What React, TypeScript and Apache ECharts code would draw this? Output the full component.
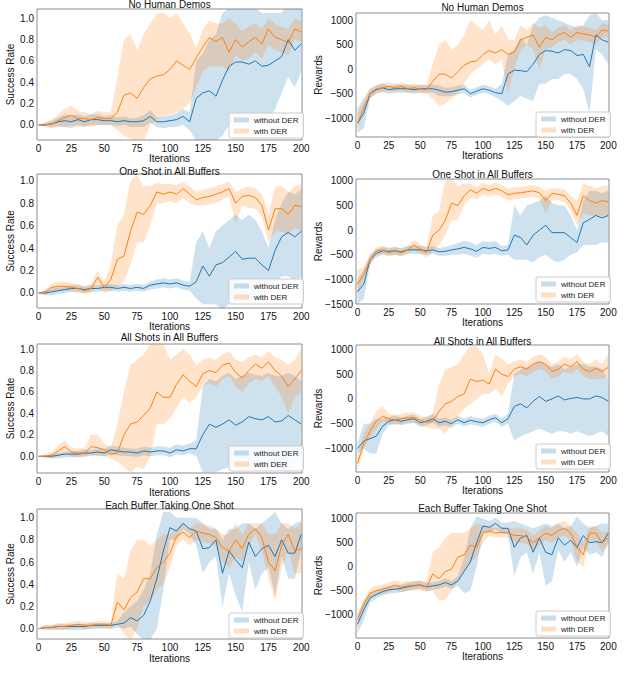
import React, { useEffect, useRef } from "react";
import * as echarts from "echarts";

// ---------- data ----------
const iterations = [0, 5, 10, 15, 20, 25, 30, 35, 40, 45, 50, 55, 60, 65, 70, 75, 80, 85, 90, 95, 100, 105, 110, 115, 120, 125, 130, 135, 140, 145, 150, 155, 160, 165, 170, 175, 180, 185, 190, 195, 200];
const xTickValues = [0, 25, 50, 75, 100, 125, 150, 175, 200];
const successTicks = [0, 0.2, 0.4, 0.6, 0.8, 1.0];
const rewardTicks = [-1000, -500, 0, 500, 1000];
const rewardTicksDeep = [-1500, -1000, -500, 0, 500, 1000];
const panelTitles = ["No Human Demos", "One Shot in All Buffers", "All Shots in All Buffers", "Each Buffer Taking One Shot"];
const seriesNames = ["without DER", "with DER"];

// No Human Demos - success rate
const nhdSrWoMean = [0, 0, 0.01, 0.03, 0.04, 0.03, 0.05, 0.03, 0.05, 0.05, 0.04, 0.04, 0.03, 0.04, 0.03, 0.03, 0.04, 0.08, 0.03, 0.03, 0.04, 0.05, 0.08, 0.03, 0.25, 0.3, 0.32, 0.27, 0.42, 0.55, 0.59, 0.59, 0.57, 0.6, 0.55, 0.56, 0.6, 0.64, 0.8, 0.7, 0.76];
const nhdSrWoLo = [0, -0.01, -0.02, -0.01, -0.02, -0.03, 0, -0.02, 0, 0, 0, 0, -0.01, 0, -0.02, -0.02, -0.02, 0.02, -0.02, -0.03, -0.02, -0.02, 0, -0.05, -0.15, -0.15, -0.15, -0.15, -0.1, 0, 0.05, 0.08, 0.07, 0.1, 0.05, 0.06, 0.15, 0.3, 0.45, 0.35, 0.5];
const nhdSrWoHi = [0, 0.02, 0.04, 0.07, 0.1, 0.09, 0.1, 0.08, 0.1, 0.1, 0.08, 0.09, 0.07, 0.08, 0.06, 0.07, 0.09, 0.14, 0.07, 0.08, 0.09, 0.11, 0.15, 0.12, 0.6, 0.67, 0.8, 0.85, 1.05, 1.1, 1.1, 1.1, 1.1, 1.1, 1.05, 1.05, 1.05, 1.05, 1.15, 1.1, 1.1];
const nhdSrWMean = [0, 0, 0.01, 0.04, 0.07, 0.09, 0.06, 0.06, 0.05, 0.07, 0.06, 0.06, 0.12, 0.28, 0.3, 0.25, 0.35, 0.43, 0.46, 0.47, 0.52, 0.6, 0.56, 0.52, 0.63, 0.73, 0.82, 0.78, 0.82, 0.68, 0.8, 0.73, 0.78, 0.82, 0.76, 0.9, 0.82, 0.8, 0.77, 0.9, 0.87];
const nhdSrWLo = [0, -0.02, -0.03, -0.02, -0.02, 0, -0.02, -0.01, -0.02, 0, 0, 0, -0.05, -0.1, -0.13, -0.15, -0.15, 0, 0.05, 0.08, 0.1, 0.12, 0.15, 0.2, 0.35, 0.5, 0.55, 0.55, 0.55, 0.5, 0.65, 0.6, 0.62, 0.68, 0.62, 0.75, 0.7, 0.68, 0.65, 0.8, 0.78];
const nhdSrWHi = [0, 0.02, 0.05, 0.1, 0.15, 0.18, 0.13, 0.12, 0.1, 0.13, 0.12, 0.12, 0.45, 0.8, 0.85, 0.7, 0.85, 0.95, 1.05, 1.05, 1.0, 1.05, 0.95, 0.85, 0.72, 0.9, 0.98, 0.95, 0.95, 1.0, 0.95, 0.88, 0.92, 0.95, 0.9, 1.0, 0.95, 0.92, 0.9, 1.0, 0.97];

// One Shot in All Buffers - success rate
const osSrWoMean = [0, 0, 0.01, 0.02, 0.03, 0.04, 0.04, 0.03, 0.04, 0.04, 0.05, 0.05, 0.04, 0.05, 0.04, 0.05, 0.04, 0.07, 0.08, 0.09, 0.08, 0.09, 0.07, 0.06, 0.1, 0.24, 0.15, 0.25, 0.27, 0.32, 0.37, 0.3, 0.31, 0.31, 0.25, 0.2, 0.38, 0.5, 0.54, 0.5, 0.55];
const osSrWoLo = [0, -0.02, -0.02, -0.01, 0, 0.01, 0.01, 0, 0.01, 0.01, 0.02, 0.02, 0.01, 0.02, 0.01, 0.02, 0.01, 0.03, 0.04, 0.05, 0.04, 0.05, 0.03, 0.02, -0.05, -0.1, -0.1, -0.1, -0.15, -0.1, -0.1, -0.05, -0.08, -0.05, -0.05, 0, 0.1, 0.15, 0.15, 0.1, 0.15];
const osSrWoHi = [0, 0.02, 0.04, 0.05, 0.06, 0.07, 0.07, 0.06, 0.07, 0.07, 0.08, 0.08, 0.07, 0.08, 0.07, 0.08, 0.07, 0.1, 0.12, 0.13, 0.12, 0.13, 0.11, 0.1, 0.45, 0.55, 0.4, 0.55, 0.6, 0.65, 0.7, 0.65, 0.7, 0.65, 0.55, 0.4, 0.65, 0.8, 0.9, 0.88, 0.92];
const osSrWMean = [0, 0.01, 0.05, 0.06, 0.06, 0.05, 0.04, 0.02, 0.04, 0.14, 0.05, 0.12, 0.3, 0.33, 0.55, 0.72, 0.7, 0.78, 0.9, 0.88, 0.9, 0.88, 0.93, 0.88, 0.83, 0.85, 0.86, 0.88, 0.9, 0.93, 0.8, 0.86, 0.87, 0.85, 0.78, 0.56, 0.75, 0.75, 0.7, 0.78, 0.77];
const osSrWLo = [0, -0.02, 0.01, 0.02, 0.02, 0.01, 0, -0.01, 0, 0.06, 0, 0.02, 0.05, 0.1, 0.25, 0.45, 0.45, 0.6, 0.8, 0.8, 0.82, 0.8, 0.85, 0.8, 0.78, 0.78, 0.79, 0.8, 0.83, 0.86, 0.62, 0.78, 0.76, 0.75, 0.68, 0.45, 0.55, 0.55, 0.52, 0.58, 0.55];
const osSrWHi = [0, 0.03, 0.08, 0.1, 0.1, 0.09, 0.08, 0.05, 0.08, 0.2, 0.1, 0.25, 0.6, 0.7, 1.0, 1.05, 0.95, 0.95, 0.98, 0.97, 0.97, 0.96, 0.99, 0.95, 0.9, 0.92, 0.93, 0.95, 0.97, 0.99, 0.9, 0.93, 0.95, 0.93, 0.88, 0.7, 0.95, 0.95, 0.9, 0.95, 0.97];

// All Shots in All Buffers - success rate
const asSrWoMean = [0, 0, 0, 0.01, 0.02, 0.02, 0.02, 0.03, 0.03, 0.04, 0.03, 0.06, 0.05, 0.04, 0.04, 0.03, 0.05, 0.04, 0.05, 0.05, 0.03, 0.06, 0.05, 0.07, 0.07, 0.2, 0.3, 0.27, 0.3, 0.34, 0.29, 0.32, 0.37, 0.35, 0.34, 0.37, 0.32, 0.33, 0.38, 0.34, 0.3];
const asSrWoLo = [0, -0.01, -0.02, -0.02, -0.01, -0.01, -0.01, 0, 0, 0.01, 0, 0.02, 0.01, 0, 0, -0.01, 0.01, 0, 0.01, 0.01, -0.01, 0.02, 0.01, 0.03, 0, -0.15, -0.15, -0.15, -0.12, -0.1, -0.12, -0.1, -0.12, -0.1, -0.12, -0.12, -0.1, -0.12, -0.15, -0.05, 0];
const asSrWoHi = [0, 0.01, 0.02, 0.03, 0.04, 0.05, 0.05, 0.06, 0.06, 0.07, 0.07, 0.1, 0.09, 0.08, 0.07, 0.07, 0.09, 0.08, 0.09, 0.09, 0.08, 0.11, 0.1, 0.12, 0.15, 0.65, 0.72, 0.7, 0.75, 0.78, 0.72, 0.75, 0.78, 0.76, 0.75, 0.78, 0.75, 0.75, 0.78, 0.75, 0.7];
const asSrWMean = [0, 0, 0.01, 0.05, 0.09, 0.04, 0.03, 0.03, 0.09, 0.08, 0.06, 0.02, 0.03, 0.2, 0.3, 0.32, 0.38, 0.45, 0.6, 0.55, 0.55, 0.67, 0.76, 0.7, 0.65, 0.77, 0.8, 0.78, 0.85, 0.87, 0.78, 0.73, 0.8, 0.86, 0.82, 0.88, 0.8, 0.75, 0.65, 0.72, 0.8];
const asSrWLo = [0, -0.02, -0.02, 0, 0.03, 0, -0.01, -0.01, 0.02, 0, 0, -0.02, -0.05, -0.1, -0.15, -0.1, -0.12, 0, 0.3, 0.3, 0.35, 0.45, 0.55, 0.5, 0.55, 0.65, 0.68, 0.65, 0.72, 0.75, 0.65, 0.6, 0.68, 0.72, 0.7, 0.75, 0.65, 0.55, 0.4, 0.55, 0.6];
const asSrWHi = [0, 0.02, 0.04, 0.1, 0.15, 0.08, 0.07, 0.08, 0.2, 0.2, 0.12, 0.08, 0.3, 0.6, 0.85, 0.9, 0.95, 1.05, 1.05, 1.05, 0.9, 0.95, 1.0, 0.95, 0.85, 0.9, 0.92, 0.9, 0.95, 0.98, 0.9, 0.88, 0.92, 0.95, 0.92, 0.98, 0.92, 0.9, 0.85, 0.9, 1.0];

// Each Buffer Taking One Shot - success rate
const ebSrWoMean = [0, 0.01, 0.01, 0.02, 0.02, 0.02, 0.02, 0.02, 0.03, 0.03, 0.03, 0.03, 0.04, 0.05, 0.1, 0.07, 0.12, 0.25, 0.45, 0.7, 0.91, 0.88, 0.95, 0.9, 0.88, 0.72, 0.73, 0.8, 0.5, 0.7, 0.62, 0.55, 0.78, 0.65, 0.72, 0.75, 0.65, 0.8, 0.68, 0.68, 0.85];
const ebSrWoLo = [0, -0.01, -0.01, -0.01, -0.01, -0.01, -0.01, -0.01, 0, 0, 0, 0, 0.01, 0, 0.02, -0.05, -0.1, -0.1, 0, 0.35, 0.8, 0.8, 0.9, 0.85, 0.75, 0.5, 0.6, 0.65, 0.2, 0.5, 0.3, 0.15, 0.6, 0.35, 0.5, 0.55, 0.3, 0.65, 0.45, 0.45, 0.7];
const ebSrWoHi = [0, 0.03, 0.03, 0.04, 0.04, 0.04, 0.04, 0.04, 0.05, 0.05, 0.05, 0.05, 0.07, 0.15, 0.2, 0.25, 0.35, 0.5, 0.85, 1.05, 1.05, 1.0, 1.0, 1.0, 1.0, 0.95, 0.9, 0.9, 0.8, 0.9, 0.9, 0.95, 0.95, 0.9, 0.95, 1.0, 1.05, 0.95, 0.9, 0.95, 0.97];
const ebSrWMean = [0, 0.01, 0.01, 0.02, 0.02, 0.03, 0.04, 0.03, 0.03, 0.04, 0.04, 0.03, 0.24, 0.17, 0.28, 0.33, 0.45, 0.45, 0.55, 0.6, 0.68, 0.83, 0.87, 0.82, 0.88, 0.86, 0.85, 0.82, 0.73, 0.7, 0.8, 0.72, 0.85, 0.9, 0.82, 0.6, 0.52, 0.75, 0.85, 0.7, 0.72];
const ebSrWLo = [0, -0.01, -0.01, -0.01, -0.01, 0, 0.01, 0, 0, 0.01, 0.01, 0, 0.05, -0.05, -0.1, 0, 0.2, 0.25, 0.35, 0.4, 0.55, 0.75, 0.8, 0.75, 0.8, 0.78, 0.77, 0.74, 0.6, 0.55, 0.65, 0.6, 0.75, 0.85, 0.7, 0.45, 0.25, 0.55, 0.7, 0.5, 0.5];
const ebSrWHi = [0, 0.03, 0.03, 0.05, 0.05, 0.06, 0.07, 0.06, 0.06, 0.07, 0.07, 0.06, 0.5, 0.45, 0.7, 0.8, 0.8, 0.75, 0.8, 0.85, 0.85, 0.9, 0.95, 0.9, 0.95, 0.94, 0.93, 0.9, 0.85, 0.85, 0.95, 0.85, 0.95, 0.95, 0.95, 0.85, 0.85, 0.95, 0.95, 0.9, 0.95];

// No Human Demos - rewards
const nhdRwWoMean = [-1100, -900, -500, -420, -380, -420, -400, -400, -400, -420, -400, -400, -400, -430, -470, -460, -430, -400, -500, -450, -400, -430, -480, -500, -100, -20, -30, -50, 100, 300, 380, 370, 330, 400, 380, 280, 300, 50, 700, 600, 550];
const nhdRwWoLo = [-1300, -1200, -600, -500, -470, -500, -480, -480, -480, -500, -480, -480, -480, -550, -560, -550, -520, -480, -580, -530, -480, -510, -570, -650, -750, -650, -550, -600, -650, -300, -300, -200, -200, -100, -100, -200, -400, -900, 400, 300, 100];
const nhdRwWoHi = [-800, -600, -400, -340, -290, -340, -320, -320, -320, -340, -320, -320, -320, -330, -380, -370, -340, -320, -420, -370, -320, -350, -400, -300, 300, 400, 650, 500, 900, 1050, 1100, 1050, 1000, 950, 900, 850, 900, 1100, 1150, 1000, 1000];
const nhdRwWMean = [-1100, -800, -500, -400, -380, -350, -380, -350, -400, -380, -400, -420, -250, -100, -100, -180, -50, 80, 150, 170, 300, 380, 330, 400, 300, 350, 600, 650, 700, 450, 650, 600, 700, 750, 650, 750, 720, 700, 650, 800, 780];
const nhdRwWLo = [-1200, -900, -600, -480, -460, -430, -460, -430, -480, -460, -480, -500, -600, -750, -700, -600, -500, -300, -100, 0, 100, 200, 100, 200, -500, 0, 400, 500, 400, 0, 400, 450, 550, 600, 500, 600, 580, 550, 500, 650, 650];
const nhdRwWHi = [-900, -650, -400, -320, -300, -270, -300, -270, -320, -300, -320, -340, 100, 500, 600, 400, 500, 700, 1000, 900, 800, 1000, 700, 900, 600, 600, 900, 800, 950, 850, 900, 750, 850, 900, 800, 900, 870, 850, 800, 950, 900];

// One Shot in All Buffers - rewards
const osRwWoMean = [-1250, -1100, -600, -470, -420, -430, -420, -440, -400, -400, -400, -420, -400, -440, -430, -400, -380, -350, -380, -430, -350, -370, -350, -420, -400, -100, -150, -300, -100, 0, 100, -50, -50, -50, -150, -250, 150, 220, 300, 250, 300];
const osRwWoLo = [-1500, -1400, -700, -550, -500, -510, -500, -520, -480, -480, -480, -500, -480, -520, -520, -500, -500, -480, -520, -560, -480, -500, -480, -520, -500, -600, -600, -600, -650, -550, -500, -600, -650, -600, -500, -450, -300, -300, -300, -250, -250];
const osRwWoHi = [-1000, -800, -500, -390, -340, -350, -340, -360, -320, -320, -320, -340, -320, -360, -340, -300, -260, -220, -240, -300, -220, -240, -220, -320, -300, 500, 300, 500, 550, 600, 700, 550, 500, 500, 300, 0, 600, 800, 800, 750, 800];
const osRwWMean = [-1100, -900, -600, -420, -400, -460, -420, -460, -400, -300, -380, -450, -100, 0, 200, 550, 500, 700, 820, 750, 850, 800, 850, 800, 720, 750, 760, 780, 800, 760, 600, 750, 730, 700, 550, 300, 700, 600, 550, 600, 580];
const osRwWLo = [-1300, -1000, -700, -500, -480, -540, -500, -540, -480, -400, -480, -550, -450, -300, -100, 200, 200, 500, 650, 630, 730, 680, 730, 680, 600, 630, 640, 660, 680, 640, 350, 600, 610, 580, 400, 100, 350, 300, 300, 300, 300];
const osRwWHi = [-800, -750, -500, -340, -320, -380, -340, -380, -320, -200, -280, -350, 300, 400, 1000, 1050, 900, 950, 950, 870, 970, 920, 970, 920, 840, 870, 880, 900, 920, 880, 800, 850, 850, 820, 700, 600, 950, 900, 850, 900, 900];

// All Shots in All Buffers - rewards
const asRwWoMean = [-1000, -850, -800, -750, -550, -450, -420, -450, -420, -400, -480, -450, -400, -480, -450, -500, -420, -480, -430, -460, -480, -420, -380, -480, -400, -150, -100, -180, -50, 50, -50, 0, 60, -20, 10, 30, 0, 0, 60, 30, -50];
const asRwWoLo = [-1100, -1000, -1100, -1100, -700, -530, -500, -530, -500, -480, -560, -530, -480, -560, -530, -580, -500, -560, -510, -540, -560, -500, -460, -560, -500, -850, -750, -700, -650, -600, -650, -700, -650, -650, -700, -650, -700, -750, -700, -650, -750];
const asRwWoHi = [-900, -500, -500, -400, -400, -370, -340, -370, -340, -320, -400, -370, -300, -400, -370, -420, -340, -400, -350, -380, -400, -340, -300, -400, -300, 500, 600, 650, 700, 750, 700, 650, 700, 600, 650, 700, 700, 650, 650, 600, 400];
const asRwWMean = [-1300, -900, -650, -450, -350, -400, -420, -400, -380, -380, -430, -470, -450, -250, -100, -50, 50, 100, 400, 350, 380, 300, 600, 500, 450, 600, 650, 600, 700, 750, 700, 550, 600, 700, 650, 750, 600, 550, 620, 550, 640];
const asRwWLo = [-1450, -1000, -800, -600, -450, -500, -520, -500, -480, -480, -530, -570, -600, -600, -700, -500, -350, -200, -100, 0, 100, 100, 200, 50, 300, 450, 500, 450, 550, 600, 550, 400, 450, 550, 500, 600, 450, 400, 400, 400, 450];
const asRwWHi = [-1150, -700, -500, -250, -150, -300, -320, -300, -280, -280, -330, -370, -300, 300, 600, 650, 700, 900, 1050, 1050, 900, 500, 900, 800, 700, 750, 800, 750, 850, 900, 850, 700, 750, 850, 800, 900, 750, 700, 800, 700, 900];

// Each Buffer Taking One Shot - rewards
const ebRwWoMean = [-1200, -900, -650, -580, -520, -480, -470, -450, -420, -390, -380, -420, -400, -380, -330, -380, -300, -100, 100, 500, 850, 820, 900, 800, 800, 400, 600, 650, 300, 600, 300, 250, 600, 450, 550, 400, 650, 500, 520, 500, 700];
const ebRwWoLo = [-1400, -1100, -750, -660, -600, -560, -550, -530, -500, -470, -460, -500, -480, -460, -420, -460, -400, -550, -500, 0, 700, 700, 780, 680, 680, -200, 200, 300, -150, 300, -400, -300, 350, 100, 300, 0, 400, 250, 300, 200, 500];
const ebRwWoHi = [-1000, -700, -550, -500, -440, -400, -390, -370, -340, -310, -300, -340, -320, -300, -240, -300, -200, 200, 800, 1050, 1000, 950, 1020, 920, 920, 950, 900, 850, 800, 850, 900, 850, 900, 800, 850, 1050, 900, 800, 850, 900, 900];
const ebRwWMean = [-1100, -800, -550, -500, -470, -430, -380, -430, -400, -400, -390, -420, -150, -250, -100, -50, 200, 250, 450, 400, 700, 750, 700, 720, 700, 650, 650, 620, 500, 600, 700, 650, 750, 800, 700, 400, 250, 700, 700, 500, 600];
const ebRwWLo = [-1200, -900, -650, -600, -570, -530, -480, -530, -500, -500, -490, -520, -500, -700, -700, -500, -300, -100, 100, 200, 500, 650, 600, 620, 600, 500, 500, 470, 350, 450, 550, 500, 600, 650, 550, 100, 0, 550, 550, 300, 450];
const ebRwWHi = [-1000, -700, -450, -400, -370, -330, -280, -330, -300, -300, -290, -320, 300, 400, 600, 700, 700, 700, 800, 900, 850, 850, 800, 820, 800, 800, 800, 770, 650, 750, 850, 800, 900, 950, 850, 700, 500, 850, 850, 700, 750];

// ---------- panel definitions (data refs) ----------
const panelData = [
  { title: panelTitles[0], kind: "sr", wo: [nhdSrWoMean, nhdSrWoLo, nhdSrWoHi], w: [nhdSrWMean, nhdSrWLo, nhdSrWHi] },
  { title: panelTitles[0], kind: "rw", wo: [nhdRwWoMean, nhdRwWoLo, nhdRwWoHi], w: [nhdRwWMean, nhdRwWLo, nhdRwWHi] },
  { title: panelTitles[1], kind: "sr", wo: [osSrWoMean, osSrWoLo, osSrWoHi], w: [osSrWMean, osSrWLo, osSrWHi] },
  { title: panelTitles[1], kind: "rw", wo: [osRwWoMean, osRwWoLo, osRwWoHi], w: [osRwWMean, osRwWLo, osRwWHi] },
  { title: panelTitles[2], kind: "sr", wo: [asSrWoMean, asSrWoLo, asSrWoHi], w: [asSrWMean, asSrWLo, asSrWHi] },
  { title: panelTitles[2], kind: "rw", wo: [asRwWoMean, asRwWoLo, asRwWoHi], w: [asRwWMean, asRwWLo, asRwWHi] },
  { title: panelTitles[3], kind: "sr", wo: [ebSrWoMean, ebSrWoLo, ebSrWoHi], w: [ebSrWMean, ebSrWLo, ebSrWHi] },
  { title: panelTitles[3], kind: "rw", wo: [ebRwWoMean, ebRwWoLo, ebRwWoHi], w: [ebRwWMean, ebRwWLo, ebRwWHi] },
];

// ---------- layout (positions / styles) ----------
const LAYOUT = [
  { left: 37, top: 9, width: 265, height: 131, yMin: -0.141, yMax: 1.087, ticks: successTicks, titleY: 4.5, legTop: 113, xGap: 13 },
  { left: 356, top: 13, width: 253, height: 124, yMin: -1386, yMax: 1148, ticks: rewardTicks, titleY: 7, legTop: 112, xGap: 13 },
  { left: 37, top: 174, width: 265, height: 134, yMin: -0.134, yMax: 1.06, ticks: successTicks, titleY: 171, legTop: 279, xGap: 13 },
  { left: 356, top: 179, width: 253, height: 125, yMin: -1500, yMax: 1040, ticks: rewardTicksDeep, titleY: 174.5, legTop: 277, xGap: 13 },
  { left: 37, top: 344, width: 265, height: 129, yMin: -0.156, yMax: 1.047, ticks: successTicks, titleY: 337.3, legTop: 446, xGap: 14 },
  { left: 356, top: 345, width: 253, height: 127, yMin: -1473, yMax: 1087, ticks: rewardTicks, titleY: 341.5, legTop: 444, xGap: 13 },
  { left: 37, top: 509, width: 265, height: 130, yMin: -0.093, yMax: 1.078, ticks: successTicks, titleY: 505, legTop: 613, xGap: 14.5 },
  { left: 356, top: 513, width: 253, height: 125, yMin: -1486, yMax: 1119, ticks: rewardTicks, titleY: 508, legTop: 611, xGap: 13 },
];

const FONT = "'Liberation Sans', Arial, Helvetica, sans-serif";
const BLUE = "#1f77b4";
const ORANGE = "#ff7f0e";
const BLUE_BAND = "rgba(31,119,180,0.22)";
const ORANGE_BAND = "rgba(255,127,14,0.22)";

function bandSeries(gi: number, lo: number[], hi: number[], color: string, name: string) {
  return {
    type: "custom",
    name,
    xAxisIndex: gi,
    yAxisIndex: gi,
    silent: true,
    clip: true,
    z: 1,
    itemStyle: { color },
    data: [[iterations[0], lo[0]]],
    renderItem: (params: any, api: any) => {
      const pts: number[][] = [];
      for (let i = 0; i < iterations.length; i++) pts.push(api.coord([iterations[i], hi[i]]));
      for (let i = iterations.length - 1; i >= 0; i--) pts.push(api.coord([iterations[i], lo[i]]));
      const cs = params.coordSys;
      return {
        type: "polygon",
        shape: { points: pts },
        style: { fill: color },
        clipPath: { type: "rect", shape: { x: cs.x, y: cs.y, width: cs.width, height: cs.height } },
      };
    },
  };
}

function lineSeries(gi: number, mean: number[], color: string, name: string) {
  return {
    type: "line",
    name,
    xAxisIndex: gi,
    yAxisIndex: gi,
    silent: true,
    symbol: "none",
    showSymbol: false,
    z: 3,
    lineStyle: { width: 1, color },
    itemStyle: { color },
    data: iterations.map((x, i) => [x, mean[i]]),
  };
}

function fmtReward(v: number) {
  return v < 0 ? "\u2212" + Math.abs(v) : String(v);
}

function buildOption() {
  const grid: any[] = [];
  const xAxis: any[] = [];
  const yAxis: any[] = [];
  const series: any[] = [];
  const legend: any[] = [];
  const graphic: any[] = [];

  panelData.forEach((p, i) => {
    const L = LAYOUT[i];
    const isSr = p.kind === "sr";
    grid.push({ left: L.left, top: L.top, width: L.width, height: L.height, show: true, borderColor: "#8c8c8c", borderWidth: 1, backgroundColor: "transparent" });
    xAxis.push({
      gridIndex: i,
      type: "value",
      min: -1.2,
      max: 200.5,
      axisLine: { show: false },
      axisTick: { show: false },
      splitLine: { show: false },
      axisLabel: { customValues: xTickValues, fontSize: 10, color: "#111", margin: 3, fontFamily: FONT },
      name: "Iterations",
      nameLocation: "middle",
      nameGap: L.xGap,
      nameMoveOverlap: false,
      nameTextStyle: { fontSize: 10, color: "#111", fontFamily: FONT },
    });
    yAxis.push({
      gridIndex: i,
      type: "value",
      min: L.yMin,
      max: L.yMax,
      axisLine: { show: false },
      axisTick: { show: false },
      splitLine: { show: false },
      axisLabel: {
        customValues: L.ticks,
        fontSize: 10,
        color: "#111",
        margin: 3,
        fontFamily: FONT,
        formatter: isSr ? (v: number) => v.toFixed(1) : (v: number) => fmtReward(v),
      },
      name: isSr ? "Success Rate" : "Rewards",
      nameLocation: "middle",
      nameGap: isSr ? 21.5 : 32.5,
      nameMoveOverlap: false,
      nameTextStyle: { fontSize: 10, color: "#111", fontFamily: FONT },
    });
    series.push(bandSeries(i, p.wo[1], p.wo[2], BLUE_BAND, seriesNames[0]));
    series.push(bandSeries(i, p.w[1], p.w[2], ORANGE_BAND, seriesNames[1]));
    series.push(lineSeries(i, p.wo[0], BLUE, seriesNames[0] + " mean"));
    series.push(lineSeries(i, p.w[0], ORANGE, seriesNames[1] + " mean"));
    legend.push({
      left: L.left + L.width - 73,
      top: L.legTop,
      orient: "vertical",
      selectedMode: false,
      itemWidth: 15,
      itemHeight: 5,
      itemGap: 3,
      padding: [3, 5, 3, 5],
      borderColor: "#cccccc",
      borderWidth: 1,
      borderRadius: 2,
      backgroundColor: "rgba(255,255,255,0.85)",
      textStyle: { fontSize: 8, color: "#222", fontFamily: FONT },
      data: [
        { name: seriesNames[0], icon: "rect", itemStyle: { color: "rgba(31,119,180,0.25)" } },
        { name: seriesNames[1], icon: "rect", itemStyle: { color: "rgba(255,127,14,0.25)" } },
      ],
    });
    graphic.push({
      type: "text",
      x: L.left + L.width / 2,
      y: L.titleY,
      z: 10,
      style: { text: p.title, align: "center", verticalAlign: "middle", fontSize: 10, fill: "#111", fontFamily: FONT },
    });
  });

  return { animation: false, backgroundColor: "#fff", grid, xAxis, yAxis, series, legend, graphic };
}

export default function App() {
  const ref = useRef<HTMLDivElement>(null);
  useEffect(() => {
    if (!ref.current) return;
    const chart = echarts.init(ref.current, undefined, { renderer: "svg" });
    chart.setOption(buildOption() as any);
    return () => chart.dispose();
  }, []);
  return (
    <div
      ref={ref}
      style={{ position: "absolute", left: 0, top: 0, width: 640, height: 682, background: "#fff" }}
    />
  );
}
